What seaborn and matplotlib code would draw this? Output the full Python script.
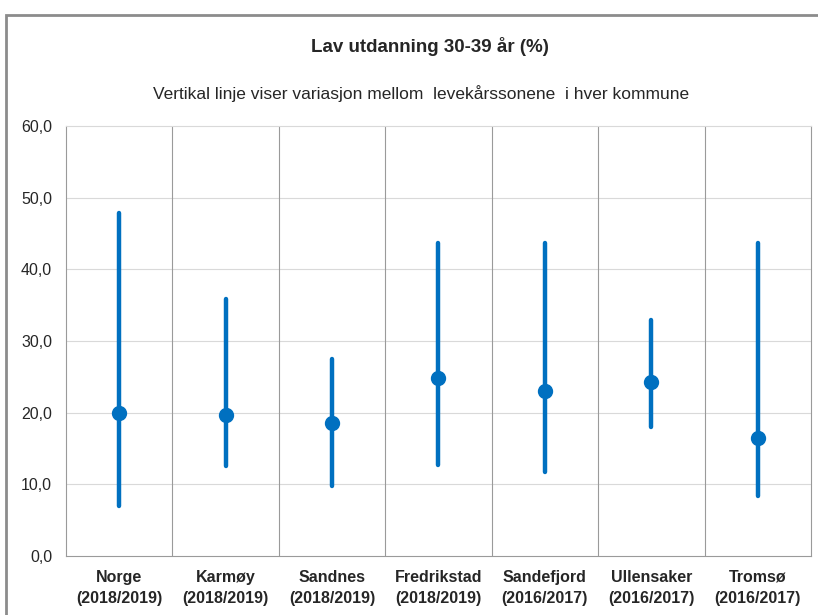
import numpy as np
import pandas as pd
import seaborn as sns
import matplotlib.pyplot as plt
from matplotlib.patches import Rectangle

# data
kommuner = ["Norge\n(2018/2019)", "Karmøy\n(2018/2019)", "Sandnes\n(2018/2019)",
            "Fredrikstad\n(2018/2019)", "Sandefjord\n(2016/2017)",
            "Ullensaker\n(2016/2017)", "Tromsø\n(2016/2017)"]
snitt = [19.9, 19.7, 18.5, 24.8, 23.0, 24.3, 16.5]
laveste = [7.0, 12.6, 9.8, 12.7, 11.7, 18.0, 8.4]
hoyeste = [47.8, 35.8, 27.5, 43.7, 43.7, 32.9, 43.7]
yticks = [0, 10, 20, 30, 40, 50, 60]

rows = []
for k, lo, mid, hi in zip(kommuner, laveste, snitt, hoyeste):
    for v in (lo, mid, hi):
        rows.append({"kommune": k, "verdi": v})
df = pd.DataFrame(rows)

sns.set_style("white")
plt.rcParams['font.family'] = ['Liberation Sans Narrow', 'Liberation Sans', 'DejaVu Sans']

fig = plt.figure(figsize=(8.18, 6.15), dpi=100)
ax = fig.add_axes([0.0807, 0.0959, 0.9107, 0.6991])

blue = "#0070C0"
sns.pointplot(data=df, x="kommune", y="verdi", order=kommuner,
              estimator=np.median, errorbar=lambda x: (x.min(), x.max()),
              linestyle="none", color=blue, markersize=9, err_kws={"linewidth": 3.2},
              ax=ax)

ax.set_ylim(0, 60)
ax.set_xlim(-0.5, len(kommuner) - 0.5)
ax.set_yticks(yticks)
ax.set_yticklabels([f"{t:.1f}".replace(".", ",") for t in yticks], fontsize=11.5)
ax.set_xticks(range(len(kommuner)))
ax.set_xticklabels(kommuner, fontsize=11.5, fontweight="bold", linespacing=1.5)
ax.tick_params(axis="both", length=0, pad=10)
ax.set_xlabel("")
ax.set_ylabel("")

for y in yticks[1:-1]:
    ax.axhline(y, color="#d9d9d9", lw=0.8, zorder=0)
for x in np.arange(0.5, len(kommuner) - 0.5, 1):
    ax.axvline(x, color="#9a9a9a", lw=0.8, zorder=0)

ax.spines["top"].set_color("#d9d9d9")
ax.spines["top"].set_linewidth(0.8)
for side in ["right", "left", "bottom"]:
    ax.spines[side].set_color("#9a9a9a")
    ax.spines[side].set_linewidth(0.8)

fig.text(0.525, 0.925, "Lav utdanning 30-39 år (%)", ha="center", va="center",
         fontsize=13.5, fontweight="bold")
fig.text(0.515, 0.848, "Vertikal linje viser variasjon mellom  levekårssonene  i hver kommune",
         ha="center", va="center", fontsize=12.5)

fig.patches.append(Rectangle((6 / 818, -0.05), 1.0, 1 - 15 / 615 + 0.05,
                             transform=fig.transFigure, fill=False,
                             edgecolor="#8c8c8c", lw=2))

fig.savefig("out.png", dpi=100)
